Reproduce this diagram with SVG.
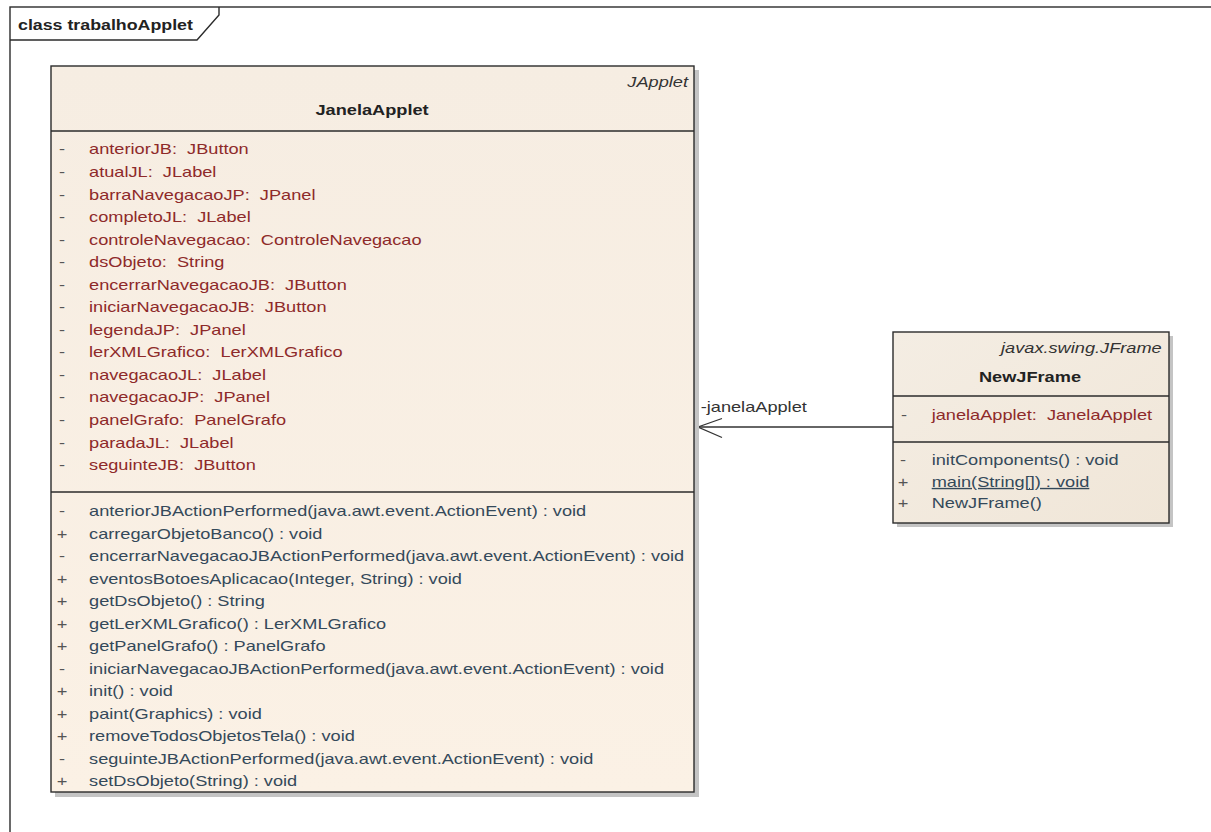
<svg xmlns="http://www.w3.org/2000/svg" width="1211" height="832" viewBox="0 0 1211 832">
<defs>
<linearGradient id="gBox" x1="0" y1="0" x2="0" y2="1">
<stop offset="0" stop-color="#F6EDE2"/>
<stop offset="1" stop-color="#FBF1E5"/>
</linearGradient>
<linearGradient id="gBox2" x1="0" y1="0" x2="1" y2="1">
<stop offset="0" stop-color="#F4EDE3"/>
<stop offset="1" stop-color="#F0E6D8"/>
</linearGradient>
</defs>
<style>
text{font-family:"Liberation Sans",Arial,sans-serif;font-size:14px}
.attr,.attr text{fill:#8E2A2A;white-space:pre}
.op{fill:#34495A}
.vis{fill:#555555}
.bold{font-weight:bold;fill:#222222}
.ital{font-style:italic;fill:#333333}
.line{stroke:#2B2B2B;stroke-width:1.4;fill:none}
.box1{stroke:#2B2B2B;stroke-width:1.4;fill:url(#gBox)}
.box2{stroke:#2B2B2B;stroke-width:1.4;fill:url(#gBox2)}
.shadow{fill:#C4C4C4}
.conn{stroke:#333333;stroke-width:1.3;fill:none}
</style>
<rect x="0" y="0" width="1211" height="832" fill="#FFFFFF"/>
<g id="frame">
<rect x="10" y="7" width="1220" height="850" class="line"/>
<path d="M10 40 L197 40 L219 15 L219 7" class="line"/>
<g transform="scale(1.27 1)">
<text x="14.2" y="30" class="bold">class trabalhoApplet</text>
</g>
</g>
<g id="connectors">
<line x1="893" y1="427" x2="698" y2="427" class="conn"/>
<path d="M722 418.5 L698 427 L722 437.5" class="conn"/>
<g transform="scale(1.3 1)">
<text x="539" y="412" fill="#333333">-janelaApplet</text>
</g>
</g>
<g id="JanelaApplet">
<rect x="55" y="70" width="644" height="727" class="shadow"/>
<rect x="51" y="66" width="643" height="726" class="box1"/>
<line x1="51" y1="131" x2="694" y2="131" class="line"/>
<line x1="51" y1="492" x2="694" y2="492" class="line"/>
<g transform="scale(1.3 1)">
<text x="529.2" y="87" text-anchor="end" class="ital">JApplet</text>
<text x="286.2" y="115" text-anchor="middle" class="bold">JanelaApplet</text>
<g class="vis">
<text x="47.7" y="154.5" text-anchor="middle">-</text>
<text x="47.7" y="177" text-anchor="middle">-</text>
<text x="47.7" y="199.6" text-anchor="middle">-</text>
<text x="47.7" y="222.1" text-anchor="middle">-</text>
<text x="47.7" y="244.7" text-anchor="middle">-</text>
<text x="47.7" y="267.2" text-anchor="middle">-</text>
<text x="47.7" y="289.8" text-anchor="middle">-</text>
<text x="47.7" y="312.3" text-anchor="middle">-</text>
<text x="47.7" y="334.9" text-anchor="middle">-</text>
<text x="47.7" y="357.4" text-anchor="middle">-</text>
<text x="47.7" y="380" text-anchor="middle">-</text>
<text x="47.7" y="402.5" text-anchor="middle">-</text>
<text x="47.7" y="425.1" text-anchor="middle">-</text>
<text x="47.7" y="447.6" text-anchor="middle">-</text>
<text x="47.7" y="470.2" text-anchor="middle">-</text>
<text x="47.7" y="516.5" text-anchor="middle">-</text>
<text x="47.7" y="539" text-anchor="middle">+</text>
<text x="47.7" y="561.5" text-anchor="middle">-</text>
<text x="47.7" y="584" text-anchor="middle">+</text>
<text x="47.7" y="606.5" text-anchor="middle">+</text>
<text x="47.7" y="629" text-anchor="middle">+</text>
<text x="47.7" y="651.5" text-anchor="middle">+</text>
<text x="47.7" y="674" text-anchor="middle">-</text>
<text x="47.7" y="696.5" text-anchor="middle">+</text>
<text x="47.7" y="719" text-anchor="middle">+</text>
<text x="47.7" y="741.5" text-anchor="middle">+</text>
<text x="47.7" y="764" text-anchor="middle">-</text>
<text x="47.7" y="786.5" text-anchor="middle">+</text>
</g>
<g class="attr" xml:space="preserve">
<text class="attr" x="68.5" y="154.5">anteriorJB:  JButton</text>
<text class="attr" x="68.5" y="177">atualJL:  JLabel</text>
<text class="attr" x="68.5" y="199.6">barraNavegacaoJP:  JPanel</text>
<text class="attr" x="68.5" y="222.1">completoJL:  JLabel</text>
<text class="attr" x="68.5" y="244.7">controleNavegacao:  ControleNavegacao</text>
<text class="attr" x="68.5" y="267.2">dsObjeto:  String</text>
<text class="attr" x="68.5" y="289.8">encerrarNavegacaoJB:  JButton</text>
<text class="attr" x="68.5" y="312.3">iniciarNavegacaoJB:  JButton</text>
<text class="attr" x="68.5" y="334.9">legendaJP:  JPanel</text>
<text class="attr" x="68.5" y="357.4">lerXMLGrafico:  LerXMLGrafico</text>
<text class="attr" x="68.5" y="380">navegacaoJL:  JLabel</text>
<text class="attr" x="68.5" y="402.5">navegacaoJP:  JPanel</text>
<text class="attr" x="68.5" y="425.1">panelGrafo:  PanelGrafo</text>
<text class="attr" x="68.5" y="447.6">paradaJL:  JLabel</text>
<text class="attr" x="68.5" y="470.2">seguinteJB:  JButton</text>
</g>
<g class="op">
<text x="68.5" y="516.5">anteriorJBActionPerformed(java.awt.event.ActionEvent) : void</text>
<text x="68.5" y="539">carregarObjetoBanco() : void</text>
<text x="68.5" y="561.5">encerrarNavegacaoJBActionPerformed(java.awt.event.ActionEvent) : void</text>
<text x="68.5" y="584">eventosBotoesAplicacao(Integer, String) : void</text>
<text x="68.5" y="606.5">getDsObjeto() : String</text>
<text x="68.5" y="629">getLerXMLGrafico() : LerXMLGrafico</text>
<text x="68.5" y="651.5">getPanelGrafo() : PanelGrafo</text>
<text x="68.5" y="674">iniciarNavegacaoJBActionPerformed(java.awt.event.ActionEvent) : void</text>
<text x="68.5" y="696.5">init() : void</text>
<text x="68.5" y="719">paint(Graphics) : void</text>
<text x="68.5" y="741.5">removeTodosObjetosTela() : void</text>
<text x="68.5" y="764">seguinteJBActionPerformed(java.awt.event.ActionEvent) : void</text>
<text x="68.5" y="786.5">setDsObjeto(String) : void</text>
</g>
</g>
</g>
<g id="NewJFrame">
<rect x="897" y="336" width="276" height="191" class="shadow"/>
<rect x="893" y="332" width="276" height="191" class="box2"/>
<line x1="893" y1="396" x2="1169" y2="396" class="line"/>
<line x1="893" y1="442" x2="1169" y2="442" class="line"/>
<g transform="scale(1.3 1)">
<text x="893.6" y="353" text-anchor="end" class="ital">javax.swing.JFrame</text>
<text x="792.3" y="382" text-anchor="middle" class="bold">NewJFrame</text>
<text x="695.4" y="420" text-anchor="middle" class="vis">-</text>
<text x="716.7" y="420" class="attr" xml:space="preserve">janelaApplet:  JanelaApplet</text>
<text x="694.6" y="465" text-anchor="middle" class="vis">-</text>
<text x="694.6" y="487" text-anchor="middle" class="vis">+</text>
<text x="694.6" y="508" text-anchor="middle" class="vis">+</text>
<text x="716.7" y="465" class="op">initComponents() : void</text>
<text x="716.7" y="487" class="op" text-decoration="underline">main(String[]) : void</text>
<text x="716.7" y="508" class="op">NewJFrame()</text>
</g>
</g>
</svg>
